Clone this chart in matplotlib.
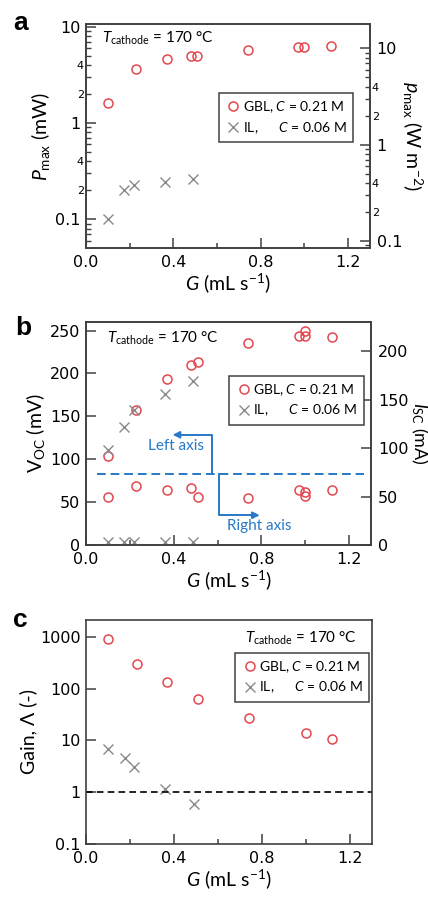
import matplotlib
matplotlib.use("Agg")
import matplotlib.pyplot as plt
from matplotlib.ticker import FixedLocator, FuncFormatter, LogLocator, NullLocator

plt.rcParams['font.family'] = ['Lato', 'DejaVu Sans']
plt.rcParams['mathtext.fontset'] = 'custom'
plt.rcParams['mathtext.rm'] = 'Lato'
plt.rcParams['mathtext.it'] = 'Lato:italic'
plt.rcParams['mathtext.bf'] = 'Lato:bold'

RED = '#e5474f'
GREY = '#8a8a8a'
BLUE = '#2878c6'
EDGE = '#404040'
LABEL_SIZE = 14

# panel a: max power vs flow rate
g_gbl_a = [0.10, 0.23, 0.37, 0.48, 0.51, 0.74, 0.97, 1.00, 1.12]
pmax_gbl = [1.6, 3.6, 4.6, 4.95, 4.95, 5.7, 6.1, 6.1, 6.3]
g_il = [0.10, 0.175, 0.22, 0.36, 0.49]
pmax_il = [0.10, 0.20, 0.23, 0.245, 0.26]
AREA_FACTOR = 1.68  # mW -> W m^-2

# panel b: open circuit voltage (left) and short circuit current (right)
g_gbl_b = [0.10, 0.23, 0.37, 0.48, 0.51, 0.74, 0.97, 1.00, 1.00, 1.12]
voc_gbl = [104, 158, 194, 210, 213, 235, 244, 244, 250, 242]
isc_gbl = [50, 61, 57, 59, 50, 49, 57, 55, 51, 57]
voc_il = [111, 138, 157, 176, 191]
isc_il = [3.5, 3.5, 3.5, 3.5, 3.5]
SPLIT_LINE = 82.6

# panel c: gain
g_gbl_c = [0.10, 0.23, 0.37, 0.51, 0.74, 1.00, 1.12]
gain_gbl = [890, 300, 134, 63, 27, 13.8, 10.7]
gain_il = [6.7, 4.5, 3.0, 1.13, 0.58]

LBL_GBL = r"GBL, $\it{C}$ = 0.21 M"
LBL_IL = r"IL,      $\it{C}$ = 0.06 M"
T_LABEL = r"$T_{\rm cathode}$ = 170 °C"

mk_c = dict(marker='o', ls='none', ms=6.5, mfc='none', mec=RED, mew=1.1)
mk_x = dict(marker='x', ls='none', ms=6.5, color=GREY, mew=1.0)


def style_spines(ax):
    for s in ax.spines.values():
        s.set_color(EDGE)
        s.set_linewidth(1.2)


def style_x(ax):
    ax.set_xlim(0, 1.3)
    ax.xaxis.set_major_locator(FixedLocator([0, 0.4, 0.8, 1.2]))
    ax.xaxis.set_minor_locator(FixedLocator([0.2, 0.6, 1.0]))
    ax.xaxis.set_major_formatter(FuncFormatter(lambda v, p: f"{v:.1f}"))
    ax.tick_params(axis='x', which='major', direction='in', length=7, width=1.1,
                   color=EDGE, labelsize=11.5, pad=5, labelfontfamily='DejaVu Sans')
    ax.tick_params(axis='x', which='minor', direction='in', length=3.5, width=1.1, color=EDGE)
    ax.set_xlabel(r"$G$ (mL s$^{-1}$)", fontsize=LABEL_SIZE, labelpad=1)


def legend(ax, anchor, handles):
    leg = ax.legend(handles=handles, loc='upper left', bbox_to_anchor=anchor, borderaxespad=0,
                    fontsize=10, handletextpad=0.1, handlelength=1.2,
                    borderpad=0.45, labelspacing=0.35, fancybox=False, framealpha=1)
    leg.get_frame().set_edgecolor(EDGE)
    leg.get_frame().set_linewidth(1.1)


def minor_lab(v, p):
    for t in (0.2, 0.4, 2, 4):
        if abs(v - t) < 1e-6 * t:
            return f"{int(round(v / (0.1 if v < 1 else 1)))}"
    return ""


def major_lab(v, p):
    return {0.1: "0.1", 1: "1", 10: "10"}.get(round(v, 3), "")


fig = plt.figure(figsize=(4.28, 8.97), dpi=100)

# ---------------- panel a ----------------
ax = fig.add_axes([0.201, 0.7235, 0.663, 0.2497])
h1, = ax.plot(g_gbl_a, pmax_gbl, label=LBL_GBL, **mk_c)
h2, = ax.plot(g_il, pmax_il, label=LBL_IL, **mk_x)
ax.set_yscale('log')
ax.set_ylim(0.0504, 10.66)
style_x(ax)
ax.yaxis.set_major_locator(FixedLocator([0.1, 1, 10]))
ax.yaxis.set_major_formatter(FuncFormatter(major_lab))
ax.yaxis.set_minor_locator(LogLocator(subs=range(2, 10)))
ax.yaxis.set_minor_formatter(FuncFormatter(minor_lab))
ax.tick_params(axis='y', which='major', direction='in', length=7, width=1.1, color=EDGE,
               labelsize=11.5, pad=4, labelfontfamily='DejaVu Sans')
ax.tick_params(axis='y', which='minor', direction='in', length=3.5, width=1.0, color=EDGE,
               labelsize=8, pad=1.5, labelfontfamily='DejaVu Sans')
ax.set_ylabel(r"$P_{\rm max}$ (mW)", fontsize=LABEL_SIZE, labelpad=2)
axr = ax.twinx()
axr.set_yscale('log')
axr.set_ylim(0.0504 * AREA_FACTOR, 10.66 * AREA_FACTOR)
axr.yaxis.set_major_locator(FixedLocator([0.1, 1, 10]))
axr.yaxis.set_major_formatter(FuncFormatter(major_lab))
axr.yaxis.set_minor_locator(LogLocator(subs=range(2, 10)))
axr.yaxis.set_minor_formatter(FuncFormatter(minor_lab))
axr.tick_params(axis='y', which='major', direction='in', length=7, width=1.1, color=EDGE,
                labelsize=11.5, pad=5, labelfontfamily='DejaVu Sans')
axr.tick_params(axis='y', which='minor', direction='in', length=3.5, width=1.0, color=EDGE,
                labelsize=8, pad=1.5, labelfontfamily='DejaVu Sans')
axr.set_ylabel(r"$p_{\rm max}$ (W m$^{-2}$)", fontsize=LABEL_SIZE, rotation=270, labelpad=16)
style_spines(ax)
style_spines(axr)
legend(ax, (0.468, 0.692), [h1, h2])
ax.text(0.055, 0.937, T_LABEL, transform=ax.transAxes, fontsize=11, va='center', ha='left')
fig.text(0.03, 0.967, "a", fontsize=19, fontweight='bold', family='Liberation Sans')

# ---------------- panel b ----------------
ax = fig.add_axes([0.201, 0.3924, 0.666, 0.2486])
h1, = ax.plot(g_gbl_b, voc_gbl, label=LBL_GBL, **mk_c)
h2, = ax.plot(g_il, voc_il, label=LBL_IL, **mk_x)
ax.set_ylim(0, 260)
style_x(ax)
ax.yaxis.set_major_locator(FixedLocator([0, 50, 100, 150, 200, 250]))
ax.tick_params(axis='y', which='major', direction='in', length=7, width=1.1, color=EDGE,
               labelsize=11.5, pad=4, labelfontfamily='DejaVu Sans')
ax.set_ylabel(r"V$_{\rm OC}$ (mV)", fontsize=LABEL_SIZE, labelpad=2)
axr = ax.twinx()
axr.plot(g_gbl_b, isc_gbl, **mk_c)
axr.plot(g_il, isc_il, **mk_x)
axr.set_ylim(0, 230)
axr.yaxis.set_major_locator(FixedLocator([0, 50, 100, 150, 200]))
axr.tick_params(axis='y', which='major', direction='in', length=7, width=1.1, color=EDGE,
                labelsize=11.5, pad=5, labelfontfamily='DejaVu Sans')
axr.set_ylabel(r"$I_{\rm SC}$ (mA)", fontsize=13, rotation=270, labelpad=15)
style_spines(ax)
style_spines(axr)
ax.plot([0.049, 1.268], [SPLIT_LINE, SPLIT_LINE], ls=(0, (4.5, 2.5)), color=BLUE, lw=1.4)
ax.plot([0.576, 0.576, 0.42], [SPLIT_LINE, 128.5, 128.5], color=BLUE, lw=1.4)
ax.annotate("", xy=(0.395, 128.5), xytext=(0.43, 128.5),
            arrowprops=dict(arrowstyle='-|>', color=BLUE, lw=1.4, mutation_scale=10,
                            shrinkA=0, shrinkB=0))
ax.plot([0.606, 0.606, 0.76], [SPLIT_LINE, 34.7, 34.7], color=BLUE, lw=1.4)
ax.annotate("", xy=(0.792, 34.7), xytext=(0.75, 34.7),
            arrowprops=dict(arrowstyle='-|>', color=BLUE, lw=1.4, mutation_scale=10,
                            shrinkA=0, shrinkB=0))
ax.text(0.41, 115.6, "Left axis", color=BLUE, fontsize=11, ha='center', va='center')
ax.text(0.79, 22, "Right axis", color=BLUE, fontsize=11, ha='center', va='center')
legend(axr, (0.502, 0.758), [h1, h2])
ax.text(0.074, 0.928, T_LABEL, transform=ax.transAxes, fontsize=11, va='center', ha='left')
fig.text(0.035, 0.627, "b", fontsize=19, fontweight='bold', family='Liberation Sans')

# ---------------- panel c ----------------
ax = fig.add_axes([0.201, 0.0591, 0.668, 0.2497])
h1, = ax.plot(g_gbl_c, gain_gbl, label=LBL_GBL, **mk_c)
h2, = ax.plot(g_il, gain_il, label=LBL_IL, **mk_x)
ax.set_yscale('log')
ax.set_ylim(0.1, 2100)
style_x(ax)
ax.yaxis.set_major_locator(FixedLocator([0.1, 1, 10, 100, 1000]))
ax.yaxis.set_major_formatter(FuncFormatter(lambda v, p: f"{v:g}"))
ax.yaxis.set_minor_locator(NullLocator())
ax.tick_params(axis='y', which='major', direction='in', length=7, width=1.1, color=EDGE,
               labelsize=11.5, pad=4, labelfontfamily='DejaVu Sans', right=False)
ax.set_ylabel("Gain, Λ (-)", fontsize=LABEL_SIZE, labelpad=2)
ax.axhline(1, ls=(0, (4, 2.5)), color='black', lw=1.2)
style_spines(ax)
legend(ax, (0.521, 0.853), [h1, h2])
ax.text(0.946, 0.92, T_LABEL, transform=ax.transAxes, fontsize=11, va='center', ha='right')
fig.text(0.03, 0.301, "c", fontsize=19, fontweight='bold', family='Liberation Sans')

fig.savefig("out.png", dpi=100)
